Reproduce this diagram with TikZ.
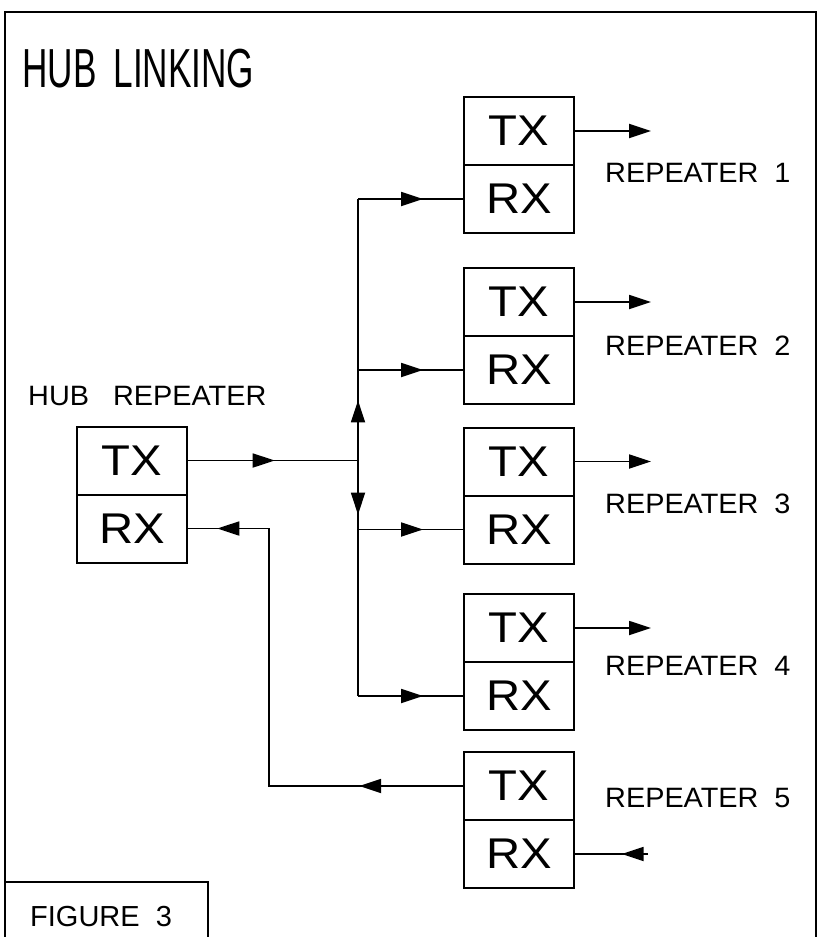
\documentclass[tikz,border=0pt]{standalone}
\usepackage{fontspec}
\setmainfont{Liberation Sans}
\newfontfamily\titlefont[FakeStretch=0.64]{Liberation Sans}
\newfontfamily\boxfont[FakeStretch=1.1]{Liberation Sans}
\newfontfamily\lblfont[FakeStretch=1.03]{Liberation Sans}
\usetikzlibrary{arrows.meta,decorations.markings}
\tikzset{
  tip/.tip={Triangle[length=22pt,width=14pt]},
  half/.style={draw,line width=2pt,minimum width=110pt,minimum height=68pt,inner sep=0pt,font=\boxfont\fontsize{43}{43}\selectfont},
  wire/.style={line width=1.8pt},
  lbl/.style={anchor=base west,inner sep=0pt,font=\lblfont\fontsize{28}{28}\selectfont},
  midarrow/.style={postaction={decorate},decoration={markings,mark=at position #1 with {\arrow{tip}}}},
}
\begin{document}
\begin{tikzpicture}[x=1pt,y=-1pt]
\useasboundingbox (0,0) rectangle (818,937);
% frame
\draw[line width=2.4pt] (5,940) -- (5,12) -- (816,12) -- (816,940);
\draw[line width=2.4pt] (5,882) -- (208,882) -- (208,940);
\node[anchor=base west,inner sep=0pt,font=\fontsize{29}{29}\selectfont] (fig) at (30,926) {FIGURE\ \ 3};
% title
\node[anchor=base west,inner sep=0pt,font=\titlefont\fontsize{55}{55}\selectfont] (title) at (22,87) {HUB\hspace{17pt}LINKING};
% hub
\node[lbl] (hublbl) at (28,405) {HUB\hspace{24pt}REPEATER};
\node[half] (htx) at (132,460.5) {TX};
\node[half] (hrx) at (132,528.5) {RX};
% repeaters
\foreach \i/\y in {1/131,2/302,3/461.5,4/628,5/786}{
  \node[half] (r\i tx) at (519,\y) {TX};
  \node[half] (r\i rx) at (519,\y+68) {RX};
}
\node[lbl] (l1) at (605,182) {REPEATER\hspace{16pt}1};
\node[lbl] (l2) at (605,355) {REPEATER\hspace{16pt}2};
\node[lbl] (l3) at (605,513) {REPEATER\hspace{16pt}3};
\node[lbl] (l4) at (605,675) {REPEATER\hspace{16pt}4};
\node[lbl] (l5) at (605,807) {REPEATER\hspace{16pt}5};
% bus coordinates
\coordinate (j) at (358,460.5);
\foreach \i in {1,2,3,4}{
  \coordinate (b\i) at (358,0 |- r\i rx.west);
  \coordinate (o\i) at (651,0 |- r\i tx.east);
}
\coordinate (c5) at (269,0 |- r5tx.west);
\coordinate (i5) at (648,0 |- r5rx.east);
% connectors
\draw[wire,midarrow=0.51] (htx.east) -- (j);
\draw[wire,midarrow=0.23] (j) -- (b1);
\draw[wire,midarrow=0.23] (j) -- (b4);
\draw[wire] (b1) -- (b2);
\foreach \i in {1,2,3,4}{
  \draw[wire,midarrow=0.62] (b\i) -- (r\i rx.west);
  \draw[wire,-tip] (r\i tx.east) -- (o\i);
}
\draw[wire,postaction={decorate},decoration={markings,
  mark=at position 0.195 with {\arrow{tip}},
  mark=at position 0.945 with {\arrow{tip}}}]
  (r5tx.west) -- (c5) |- (hrx.east);
\draw[wire,midarrow=0.36] (i5) -- (r5rx.east);
\end{tikzpicture}
\end{document}
